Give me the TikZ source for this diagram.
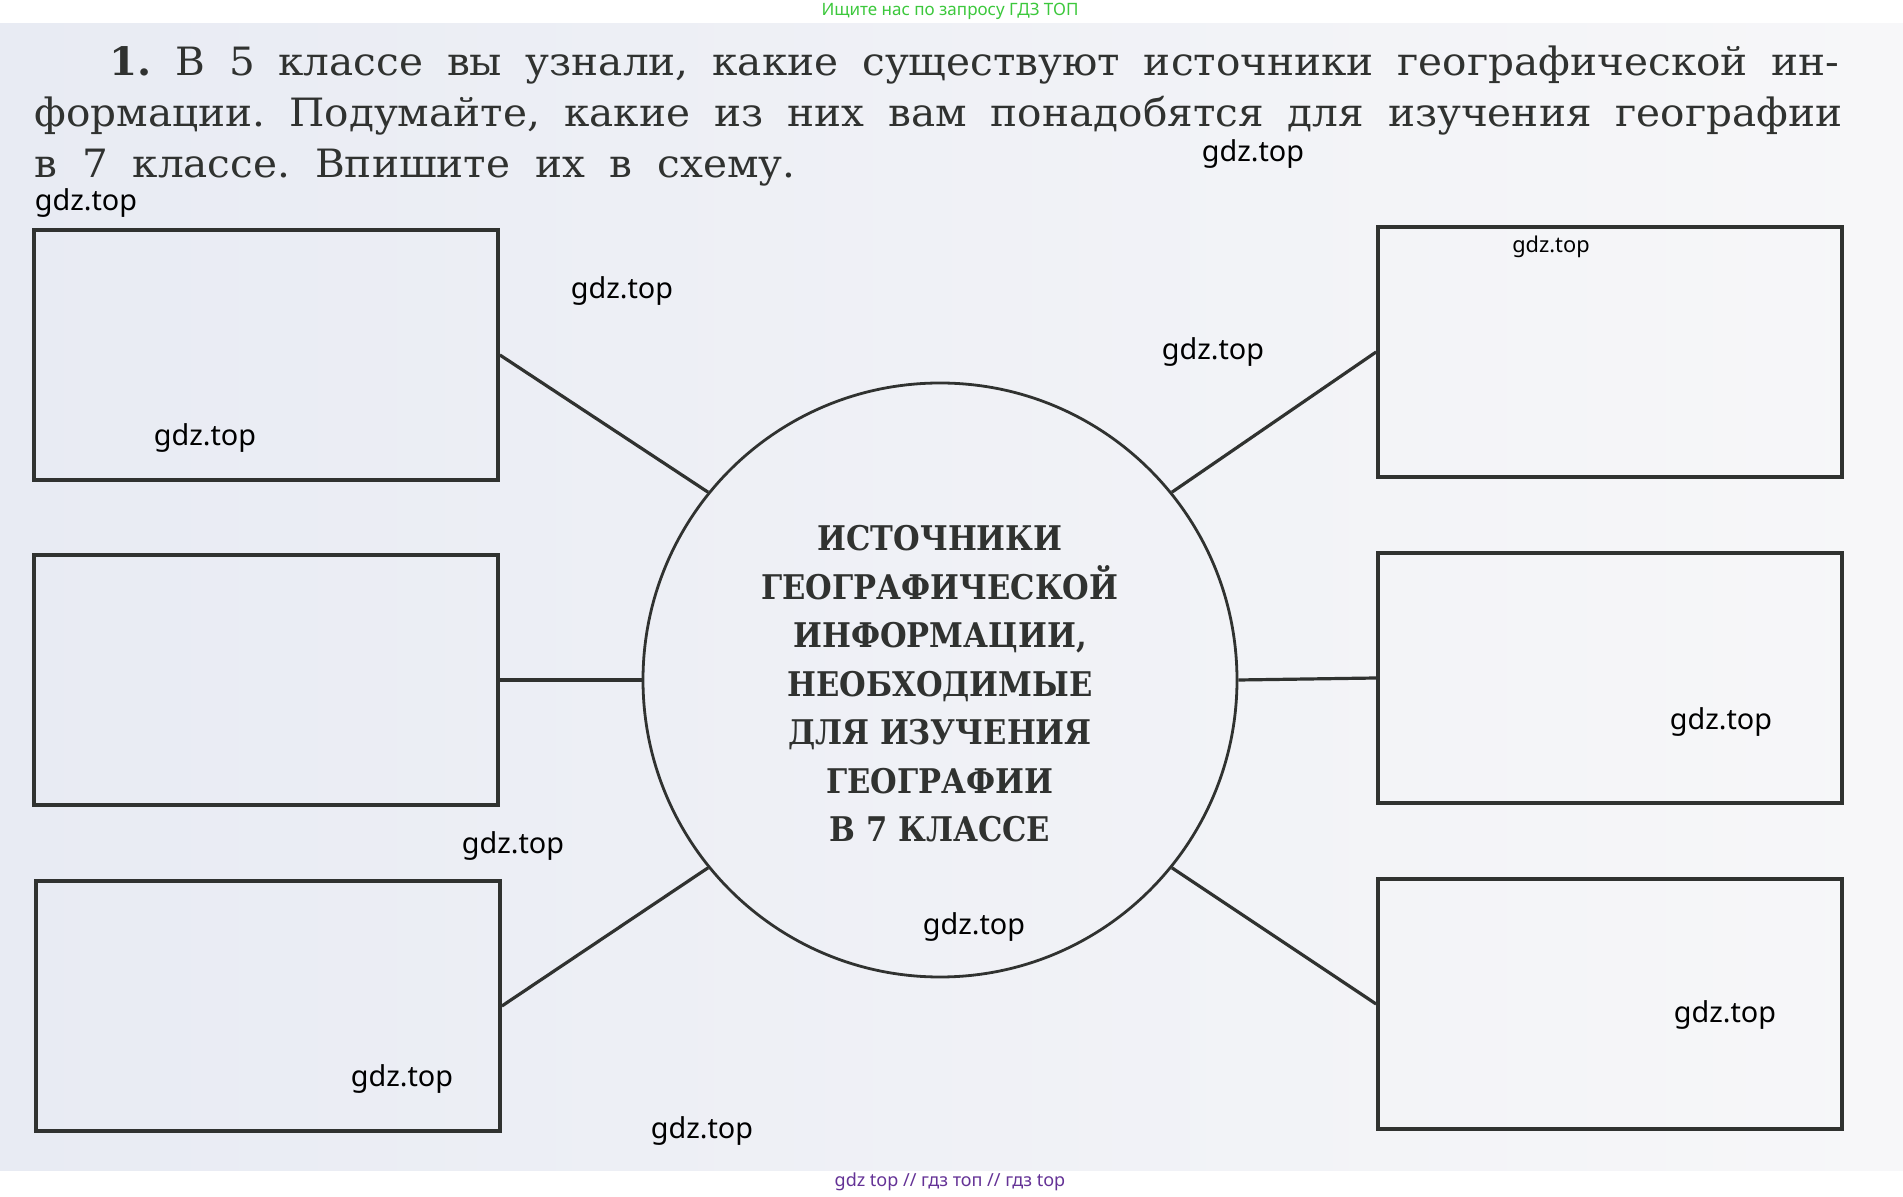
\documentclass[tikz,border=0pt]{standalone}
\usepackage{fontspec}
\setmainfont{DejaVu Serif}
\newfontfamily\taskfont[FakeStretch=1.04]{DejaVu Serif}
\newfontfamily\hubfont[FakeStretch=0.9]{DejaVu Serif}
\newfontfamily\wmfont{Noto Sans}
\definecolor{ink}{RGB}{48,50,48}
\definecolor{pageL}{RGB}{232,235,243}
\definecolor{pageR}{RGB}{247,247,249}
\definecolor{adgreen}{RGB}{60,200,60}
\definecolor{adpurple}{RGB}{100,50,150}
\begin{document}
\frenchspacing
\begin{tikzpicture}[x=0.5pt,y=-0.5pt,
  srcbox/.style={draw=ink,line width=1.9pt,minimum width=232pt,minimum height=125pt,inner sep=0pt},
  hub/.style={circle,draw=ink,line width=1.4pt,minimum size=297pt,inner sep=0pt},
  hubtext/.style={align=center,inner sep=0pt,text=ink,font=\hubfont\bfseries\fontsize{17pt}{24.25pt}\selectfont},
  link/.style={draw=ink,line width=1.6pt},
  task/.style={anchor=base west,inner sep=0pt,text=ink,font=\taskfont\fontsize{19.5pt}{22pt}\selectfont},
  wmark/.style={inner sep=0pt,text=black,font=\wmfont\fontsize{14.4pt}{16pt}\selectfont}]
\useasboundingbox (0,0) rectangle (1903,1197);
\fill[white] (0,0) rectangle (1903,1197);
\shade[left color=pageL,right color=pageR] (0,24) rectangle (1903,1170);

% task text
\node[task] (line1) at (109,76) {\makebox[865pt][s]{\textbf{1.} В 5 классе вы узнали, какие существуют источники географической ин-}};
\node[task] (line2) at (34,127) {\makebox[904pt][s]{формации. Подумайте, какие из них вам понадобятся для изучения географии}};
\node[task] (line3) at (34,178) {\makebox[380.5pt][s]{в 7 классе. Впишите их в схему.}};

% scheme
\node[hub] (hub) at (940,680) {};
\node[hubtext] (hubtext) at (940,684) {ИСТОЧНИКИ\\ГЕОГРАФИЧЕСКОЙ\\ИНФОРМАЦИИ,\\НЕОБХОДИМЫЕ\\ДЛЯ ИЗУЧЕНИЯ\\ГЕОГРАФИИ\\В 7 КЛАССЕ};
\foreach \nm/\cx/\cy in {boxL1/266/355,boxL2/266/680,boxL3/268/1006,boxR1/1610/352,boxR2/1610/678,boxR3/1610/1004}
  \node[srcbox] (\nm) at (\cx,\cy) {};
\draw[link] (boxL1.east) -- (hub.141);
\draw[link] (boxL2.east) -- (hub.180);
\draw[link] (boxL3.east) -- (hub.219);
\draw[link] (boxR1.west) -- (hub.39);
\draw[link] (boxR2.west) -- (hub.0);
\draw[link] (boxR3.west) -- (hub.-39);

% watermarks
\foreach \px/\py [count=\i] in {1253/154,86/203,622/291,1213/352,205/438,1721/722,513/846,974/927,1725/1015,402/1079,702/1131}
  \node[wmark] (wm\i) at (\px,\py) {gdz.top};
\node[wmark,font=\wmfont\fontsize{10.9pt}{12pt}\selectfont] (wmsmall) at (1551,247) {gdz.top};
\node[inner sep=0pt,text=adgreen,font=\wmfont\fontsize{8.5pt}{10pt}\selectfont] (adtop) at (950,11) {Ищите нас по запросу ГДЗ ТОП};
\node[inner sep=0pt,text=adpurple,font=\wmfont\fontsize{9pt}{10pt}\selectfont] (adbottom) at (950,1182) {gdz top // гдз топ // гдз top};
\end{tikzpicture}
\end{document}
